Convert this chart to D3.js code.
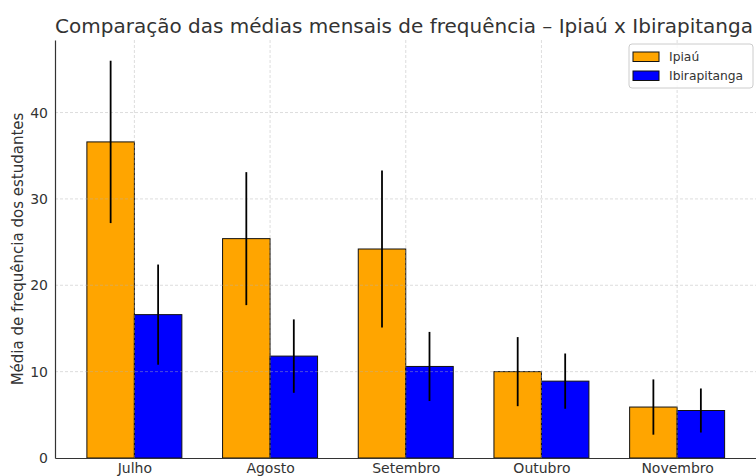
<!DOCTYPE html>
<html>
<head>
<meta charset="utf-8">
<script src="https://cdn.jsdelivr.net/npm/d3@7"></script>
<style>
  body { margin: 0; background: #fff; }
  text { font-family: "DejaVu Sans", sans-serif; fill: #333; }
</style>
</head>
<body>
<svg></svg>
<script>
const WIDTH = 756
const HEIGHT = 476
const months = ['Julho','Agosto','Setembro','Outubro','Novembro']
const series = ['Ipiaú','Ibirapitanga']
const ipiau = [36.6,25.4,24.2,10.0,5.9]
const ipiauSd = [9.4,7.7,9.1,4.0,3.2]
const ibira = [16.6,11.8,10.6,8.9,5.5]
const ibiraSd = [5.8,4.25,4.0,3.2,2.55]
const yTicks = [0,10,20,30,40]
const colors = ['#ffa500','#0000ff']

const margin = {left:55, right:0, top:40, bottom:18}
const svg = d3.select('svg')
  .attr('width',WIDTH)
  .attr('height',HEIGHT)

const x = d3.scaleLinear()
  .domain([-0.585,4.585])
  .range([margin.left,WIDTH-margin.right+0.5])
const y = d3.scaleLinear()
  .domain([0,48.4])
  .range([HEIGHT-margin.bottom,margin.top])
const W = 0.35

const data = []
months.forEach((m,i) => {
  data.push({i:i,s:0,v:ipiau[i],sd:ipiauSd[i]})
  data.push({i:i,s:1,v:ibira[i],sd:ibiraSd[i]})
})

// bars
svg.append('g').selectAll('rect')
  .data(data)
  .enter().append('rect')
  .attr('x',d => x(d.i + (d.s ? 0 : -W)))
  .attr('width',d => x(W)-x(0))
  .attr('y',d => y(d.v))
  .attr('height',d => y(0)-y(d.v))
  .attr('fill',d => colors[d.s])
  .attr('stroke','#111')
  .attr('stroke-width',1)

// grid on top
const grid = svg.append('g')
  .attr('stroke','#b0b0b0')
  .attr('stroke-opacity',0.55)
  .attr('stroke-dasharray','3,2')
  .attr('stroke-width',0.8)
grid.selectAll('.gy')
  .data(yTicks.slice(1))
  .enter().append('line')
  .attr('x1',margin.left).attr('x2',WIDTH)
  .attr('y1',d => y(d)).attr('y2',d => y(d))
grid.selectAll('.gx')
  .data(d3.range(months.length))
  .enter().append('line')
  .attr('x1',d => x(d)).attr('x2',d => x(d))
  .attr('y1',margin.top).attr('y2',y(0))

// error bars
svg.append('g').selectAll('line')
  .data(data)
  .enter().append('line')
  .attr('x1',d => x(d.i + (d.s ? W/2 : -W/2)))
  .attr('x2',d => x(d.i + (d.s ? W/2 : -W/2)))
  .attr('y1',d => y(d.v+d.sd))
  .attr('y2',d => y(d.v-d.sd))
  .attr('stroke','#000')
  .attr('stroke-width',1.8)

// axes
const yAxis = svg.append('g')
  .attr('transform',`translate(${margin.left},0)`)
  .call(d3.axisLeft(y).tickValues(yTicks).tickSize(0).tickPadding(7))
yAxis.select('.domain').attr('stroke','#333').attr('stroke-width',1.2)
yAxis.selectAll('text').attr('font-size',14).style('fill','#333')

const xAxis = svg.append('g')
  .attr('transform',`translate(0,${y(0)})`)
  .call(d3.axisBottom(x).tickValues(d3.range(months.length)).tickFormat(i => months[i]).tickSize(0).tickPadding(5))
xAxis.select('.domain').attr('stroke','#333').attr('stroke-width',1.2)
xAxis.selectAll('text').attr('font-size',14).style('fill','#333')

// title
svg.append('text')
  .attr('x',404)
  .attr('y',33)
  .attr('text-anchor','middle')
  .attr('font-size',20)
  .text('Comparação das médias mensais de frequência – Ipiaú x Ibirapitanga')

// y label
svg.append('text')
  .attr('transform',`translate(23,${(margin.top+y(0))/2}) rotate(-90)`)
  .attr('text-anchor','middle')
  .attr('font-size',15)
  .text('Média de frequência dos estudantes')

// legend
const legend = svg.append('g').attr('transform','translate(629,44)')
legend.append('rect')
  .attr('width',124).attr('height',44)
  .attr('rx',3)
  .attr('fill','#fff').attr('fill-opacity',0.8)
  .attr('stroke','#ccc')
series.forEach((s,i) => {
  legend.append('rect')
    .attr('x',4).attr('y',8+i*19)
    .attr('width',26).attr('height',9.5)
    .attr('fill',colors[i]).attr('stroke','#111')
  legend.append('text')
    .attr('x',40).attr('y',17+i*19)
    .attr('font-size',12.3)
    .text(s)
})
</script>
</body>
</html>
